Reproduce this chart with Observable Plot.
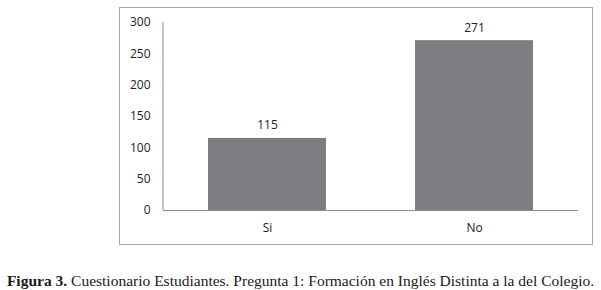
<!DOCTYPE html>
<html>
<head>
<meta charset="utf-8">
<script src="https://cdn.jsdelivr.net/npm/d3@7"></script>
<script src="https://cdn.jsdelivr.net/npm/@observablehq/plot@0.6"></script>
<style>
  html, body { margin: 0; padding: 0; background: #fff; }
  #wrap { position: relative; width: 601px; height: 290px; overflow: hidden; }
  #box { position: absolute; left: 119px; top: 7px; width: 474px; height: 238px; box-sizing: border-box; border: 1px solid #a6a6a6; pointer-events: none; }
  #chart { position: absolute; left: 0; top: 0; }
  #caption { position: absolute; left: 0; width: 601px; top: 273px; line-height: 1; text-align: center; font-family: "Liberation Serif", serif; font-size: 15.5px; color: #1a1a1a; white-space: nowrap; }
</style>
</head>
<body>
<div id="wrap">
  <div id="chart"></div>
  <div id="box"></div>
  <div id="caption"><b>Figura 3.</b> Cuestionario Estudiantes. Pregunta 1: Formación en Inglés Distinta a la del Colegio.</div>
</div>
<script>
const categories = ["Si", "No"];
const values = [115, 271];
const yTicks = [0, 50, 100, 150, 200, 250, 300];

const data = categories.map((c, i) => ({cat: c, val: values[i]}));

const yAxisLine = (index, scales, vals, dims) => {
  const g = d3.create("svg:g");
  g.append("line")
    .attr("x1", dims.marginLeft).attr("x2", dims.marginLeft)
    .attr("y1", scales.y(300)).attr("y2", scales.y(0))
    .attr("stroke", "#8c8c8c").attr("stroke-width", 1);
  return g.node();
};

const chart = Plot.plot({
  width: 601,
  height: 250,
  marginLeft: 163,
  marginRight: 23,
  marginTop: 22,
  marginBottom: 40,
  style: {fontFamily: "'Open Sans', sans-serif", fontSize: "12px", color: "#222", background: "transparent"},
  x: {domain: categories, paddingInner: 0.43, paddingOuter: 0.215, label: null},
  y: {domain: [0, 300], label: null},
  marks: [
    Plot.barY(data, {x: "cat", y: "val", fill: "#7e7e82"}),
    Plot.ruleY([0], {stroke: "#8c8c8c"}),
    yAxisLine,
    Plot.text(data, {x: "cat", y: "val", text: d => String(d.val), dy: -13, fill: "#222", fontSize: 12}),
    Plot.axisY({ticks: yTicks, tickSize: 0, tickPadding: 13, label: null, fontSize: 12}),
    Plot.axisX({tickSize: 0, tickPadding: 13, label: null, fontSize: 12})
  ]
});
document.getElementById("chart").appendChild(chart);
</script>
</body>
</html>
